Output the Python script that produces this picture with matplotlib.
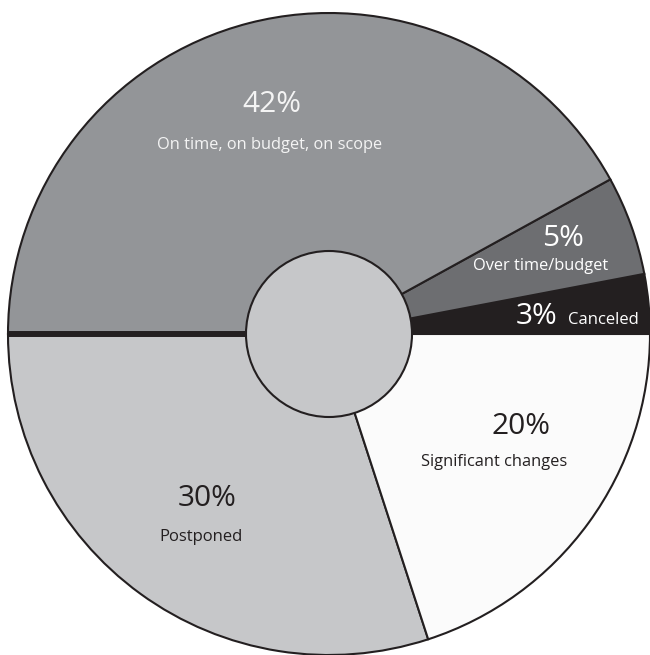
import matplotlib.pyplot as plt
from matplotlib.patches import Circle

plt.rcParams['font.family'] = ['Open Sans', 'DejaVu Sans']

# project outcome shares, counter-clockwise from 3 o'clock
labels = ["Canceled", "Over time/budget", "On time, on budget, on scope",
          "Postponed", "Significant changes"]
shares = [3, 5, 42, 30, 20]
colors = ["#231f20", "#6d6e71", "#939598", "#c6c7c9", "#fbfbfb"]
text_colors = ["white", "white", "#f4f4f4", "#231f20", "#231f20"]

W, H = 650, 655
cx, cy = 329, H - 334
R = 321

fig = plt.figure(figsize=(W / 100, H / 100), dpi=100)
ax = fig.add_axes([0, 0, 1, 1])

ax.pie(shares, colors=colors, startangle=0, counterclock=True,
       center=(cx, cy), radius=R,
       wedgeprops=dict(edgecolor="#231f20", linewidth=1.5))

# thick divider on the left between the two big slices
ax.plot([cx - R, cx], [cy, cy], color="#231f20", lw=4.3, solid_capstyle="butt", zorder=3)

# hub in the middle
ax.add_patch(Circle((cx, cy), 83, facecolor="#c6c7c9", edgecolor="#231f20", lw=1.5, zorder=4))

# label positions (pixels from top-left): percent, then name
pct_pos = [(537, 316), (563, 238), (272, 104), (207, 498), (521, 427)]
name_pos = [(603, 320), (541, 266), (270, 145), (201, 537), (494, 462)]
name_size = [12, 11.8, 11.8, 12, 11.8]

for i in range(len(shares)):
    px, py = pct_pos[i]
    ax.text(px, H - py, f"{shares[i]}%", ha="center", va="center",
            fontsize=21.5, color=text_colors[i], zorder=5)
    nx, ny = name_pos[i]
    ax.text(nx, H - ny, labels[i], ha="center", va="center",
            fontsize=name_size[i], color=text_colors[i], zorder=5)

ax.set_xlim(0, W)
ax.set_ylim(0, H)
ax.set_aspect("equal")
ax.axis("off")

fig.savefig("out.png", dpi=100)
